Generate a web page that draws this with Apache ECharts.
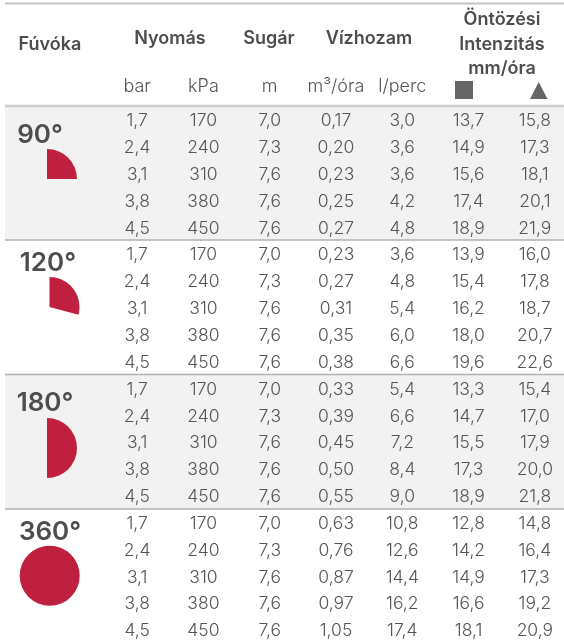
<!DOCTYPE html>
<html>
<head>
<meta charset="utf-8">
<style>
  html, body { margin: 0; padding: 0; background: #fff; }
  #main { width: 564px; height: 641px; }
</style>
<script src="https://cdn.jsdelivr.net/npm/echarts@6/dist/echarts.min.js"></script>
</head>
<body>
<div id="main"></div>
<script>
const unitLabels = ['bar', 'kPa', 'm', 'm³/óra', 'l/perc', '', '']
const rowNames = Array.from({ length: 20 }, (_, i) => 'r' + i)

const bar = [1.7, 2.4, 3.1, 3.8, 4.5, 1.7, 2.4, 3.1, 3.8, 4.5, 1.7, 2.4, 3.1, 3.8, 4.5, 1.7, 2.4, 3.1, 3.8, 4.5]
const kpa = [170, 240, 310, 380, 450, 170, 240, 310, 380, 450, 170, 240, 310, 380, 450, 170, 240, 310, 380, 450]
const sugar = [7.0, 7.3, 7.6, 7.6, 7.6, 7.0, 7.3, 7.6, 7.6, 7.6, 7.0, 7.3, 7.6, 7.6, 7.6, 7.0, 7.3, 7.6, 7.6, 7.6]
const m3ora = [0.17, 0.20, 0.23, 0.25, 0.27, 0.23, 0.27, 0.31, 0.35, 0.38, 0.33, 0.39, 0.45, 0.50, 0.55, 0.63, 0.76, 0.87, 0.97, 1.05]
const lperc = [3.0, 3.6, 3.6, 4.2, 4.8, 3.6, 4.8, 5.4, 6.0, 6.6, 5.4, 6.6, 7.2, 8.4, 9.0, 10.8, 12.6, 14.4, 16.2, 17.4]
const negyzet = [13.7, 14.9, 15.6, 17.4, 18.9, 13.9, 15.4, 16.2, 18.0, 19.6, 13.3, 14.7, 15.5, 17.3, 18.9, 12.8, 14.2, 14.9, 16.6, 18.1]
const haromszog = [15.8, 17.3, 18.1, 20.1, 21.9, 16.0, 17.8, 18.7, 20.7, 22.6, 15.4, 17.0, 17.9, 20.0, 21.8, 14.8, 16.4, 17.3, 19.2, 20.9]

const columns = [bar, kpa, sugar, m3ora, lperc, negyzet, haromszog]
const decimals = [1, 0, 1, 2, 1, 1, 1]

// fúvóka: felirat, körcikk (kezdet, vég fok)
const nozzleLabels = ['90°', '120°', '180°', '360°']
const sectorStart = [90, 90, 90, 0]
const sectorEnd = [0, -15, -90, 360]

const fontName = 'Inter, Lato, sans-serif'
const textColor = '#555555'
const headColor = '#4d4d4d'
const red = '#c02040'

const cellData = []
columns.forEach((col, c) => {
  col.forEach((v, r) => {
    cellData.push([c, r, v.toFixed(decimals[c]).replace('.', ',')])
  })
})

// header / nozzle column layout, in the page grid units
const headLayout = [
  ['Fúvóka', 50, 45], ['Nyomás', 170, 39], ['Sugár', 269, 39], ['Vízhozam', 369, 39],
  ['Öntözési', 502, 20], ['Intenzitás', 502, 45], ['mm/óra', 502, 69]
]
const nozzleLayout = [[40, 135, 47, 179], [48, 263, 49.5, 307], [45, 403, 47, 448], [50, 532, 49.7, 575.7]]
const bandLayout = [[106, 240], [374.5, 509]]
const ruleLayout = [[3.5, 2, '#c4c4c4'], [106, 2.5, '#cccccc'], [240, 1.5, '#b0b0b0'], [374.5, 1.5, '#b0b0b0'], [509, 1.5, '#b0b0b0']]

const myChart = echarts.init(document.getElementById('main'), null, { renderer: 'canvas' })

myChart.setOption({
  animation: false,
  grid: [
    { left: 0, top: 0, width: 564, height: 641, outerBoundsMode: 'none' },
    { left: 104, top: 107.5, width: 464, height: 537, outerBoundsMode: 'none' }
  ],
  xAxis: [
    { type: 'value', min: 0, max: 564, show: false, gridIndex: 0 },
    {
      type: 'category',
      gridIndex: 1,
      position: 'top',
      data: unitLabels,
      axisLine: { show: false },
      axisTick: { show: false },
      axisLabel: { interval: 0, margin: 12, fontFamily: fontName, fontSize: 18, fontWeight: 300, color: textColor }
    }
  ],
  yAxis: [
    { type: 'value', min: 0, max: 641, inverse: true, show: false, gridIndex: 0 },
    { type: 'category', gridIndex: 1, inverse: true, data: rowNames, show: false }
  ],
  series: [
    {
      type: 'custom',
      coordinateSystem: 'cartesian2d',
      xAxisIndex: 0,
      yAxisIndex: 0,
      clip: false,
      silent: true,
      data: bandLayout,
      encode: { y: [0, 1] },
      renderItem(params, api) {
        const a = api.coord([5, api.value(0)])
        const b = api.coord([564, api.value(1)])
        return { type: 'rect', shape: { x: a[0], y: a[1], width: b[0] - a[0], height: b[1] - a[1] }, style: { fill: '#f2f2f2' } }
      }
    },
    {
      type: 'custom',
      xAxisIndex: 0,
      yAxisIndex: 0,
      silent: true,
      data: ruleLayout,
      renderItem(params, api) {
        const rule = ruleLayout[params.dataIndex]
        const a = api.coord([5, rule[0]])
        const b = api.coord([564, rule[0]])
        return {
          type: 'line',
          shape: { x1: a[0], y1: a[1], x2: b[0], y2: b[1] },
          style: { stroke: rule[2], lineWidth: rule[1] }
        }
      }
    },
    {
      type: 'custom',
      xAxisIndex: 0,
      yAxisIndex: 0,
      silent: true,
      data: headLayout,
      renderItem(params, api) {
        const head = headLayout[params.dataIndex]
        const p = api.coord([head[1], head[2]])
        return {
          type: 'text',
          style: { x: p[0], y: p[1], text: head[0], align: 'center', verticalAlign: 'middle', fill: headColor, font: '600 18px ' + fontName }
        }
      }
    },
    {
      type: 'custom',
      xAxisIndex: 0,
      yAxisIndex: 0,
      silent: true,
      data: nozzleLabels,
      renderItem(params, api) {
        const i = params.dataIndex
        const lay = nozzleLayout[i]
        const t = api.coord([lay[0], lay[1]])
        const c = api.coord([lay[2], lay[3]])
        return {
          type: 'group',
          children: [
            {
              type: 'text',
              style: { x: t[0], y: t[1], text: nozzleLabels[i], align: 'center', verticalAlign: 'middle', fill: headColor, font: '600 26px ' + fontName }
            },
            {
              type: 'sector',
              shape: {
                cx: c[0],
                cy: c[1],
                r0: 0,
                r: 30,
                startAngle: (-sectorStart[i] * Math.PI) / 180,
                endAngle: (-sectorEnd[i] * Math.PI) / 180,
                clockwise: true
              },
              style: { fill: red }
            }
          ]
        }
      }
    },
    {
      // square and triangle in the unit row of the header
      type: 'custom',
      xAxisIndex: 0,
      yAxisIndex: 0,
      silent: true,
      data: [0],
      renderItem(params, api) {
        const s0 = api.coord([455, 81])
        const s1 = api.coord([473, 99])
        const t0 = api.coord([530, 99])
        const t1 = api.coord([547.5, 99])
        const t2 = api.coord([538.7, 82])
        return {
          type: 'group',
          children: [
            { type: 'rect', shape: { x: s0[0], y: s0[1], width: s1[0] - s0[0], height: s1[1] - s0[1] }, style: { fill: '#666666' } },
            { type: 'polygon', shape: { points: [t0, t1, t2] }, style: { fill: '#666666' } }
          ]
        }
      }
    },
    {
      type: 'custom',
      xAxisIndex: 1,
      yAxisIndex: 1,
      clip: false,
      silent: true,
      data: cellData,
      renderItem(params, api) {
        const p = api.coord([api.value(0), api.value(1)])
        return {
          type: 'text',
          style: { x: p[0], y: p[1], text: cellData[params.dataIndex][2], align: 'center', verticalAlign: 'middle', fill: textColor, font: '300 17.5px ' + fontName }
        }
      }
    }
  ]
})
</script>
</body>
</html>
